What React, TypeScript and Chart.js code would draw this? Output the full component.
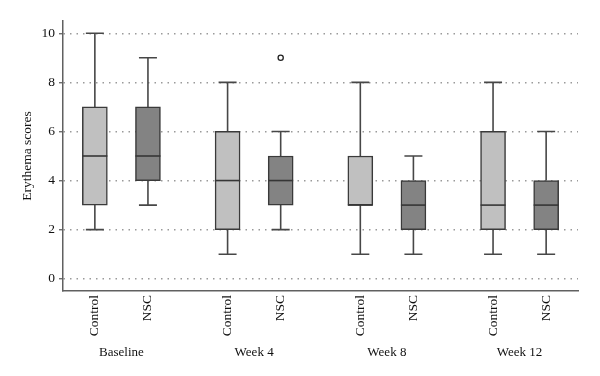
import React, { useEffect, useRef } from 'react';
import { Chart, registerables } from 'chart.js';

Chart.register(...registerables);

// ---- data ----
const groups = ['Baseline', 'Week 4', 'Week 8', 'Week 12'];
const seriesNames = ['Control', 'NSC'];

const controlMin = [2, 1, 1, 1];
const controlQ1 = [3, 2, 3, 2];
const controlMedian = [5, 4, 3, 3];
const controlQ3 = [7, 6, 5, 6];
const controlMax = [10, 8, 8, 8];

const nscMin = [3, 2, 1, 1];
const nscQ1 = [4, 3, 2, 2];
const nscMedian = [5, 4, 3, 3];
const nscQ3 = [7, 5, 4, 4];
const nscMax = [9, 6, 5, 6];

const nscOutlierGroups = [1];
const nscOutlierValues = [9];

const yTickValues = [0, 2, 4, 6, 8, 10];

// ---- styling / layout ----
const OFFSET = 0.2;
const FONT = "'Liberation Serif', 'DejaVu Serif', serif";
const LINE = '#474747';
const TEXT = '#111111';

const series = [
  { name: seriesNames[0], min: controlMin, q1: controlQ1, med: controlMedian, q3: controlQ3, max: controlMax, fill: '#c0c0c0', offset: -OFFSET },
  { name: seriesNames[1], min: nscMin, q1: nscQ1, med: nscMedian, q3: nscQ3, max: nscMax, fill: '#838383', offset: OFFSET },
];

const boxPlugin = {
  id: 'boxWhiskers',
  beforeDatasetsDraw(chart: any) {
    const { ctx, scales } = chart;
    const x = scales.x;
    const y = scales.y;
    const cap = 9;
    ctx.save();
    ctx.strokeStyle = LINE;
    ctx.lineWidth = 1.6;
    series.forEach((s) => {
      s.min.forEach((_: number, g: number) => {
        const px = x.getPixelForValue(g + s.offset);
        const yMin = y.getPixelForValue(s.min[g]);
        const yMax = y.getPixelForValue(s.max[g]);
        ctx.beginPath();
        ctx.moveTo(px, y.getPixelForValue(s.q1[g]));
        ctx.lineTo(px, yMin);
        ctx.moveTo(px, y.getPixelForValue(s.q3[g]));
        ctx.lineTo(px, yMax);
        ctx.moveTo(px - cap, yMin);
        ctx.lineTo(px + cap, yMin);
        ctx.moveTo(px - cap, yMax);
        ctx.lineTo(px + cap, yMax);
        ctx.stroke();
      });
    });
    ctx.restore();
  },
  afterDatasetsDraw(chart: any) {
    const { ctx, scales } = chart;
    const y = scales.y;
    ctx.save();
    ctx.strokeStyle = '#363636';
    ctx.lineWidth = 1.6;
    series.forEach((s, i) => {
      const meta = chart.getDatasetMeta(i);
      meta.data.forEach((bar: any, g: number) => {
        const py = y.getPixelForValue(s.med[g]);
        const half = bar.width / 2;
        ctx.beginPath();
        ctx.moveTo(bar.x - half, py);
        ctx.lineTo(bar.x + half, py);
        ctx.stroke();
      });
    });
    ctx.restore();
  },
};

export default function App() {
  const canvasRef = useRef<HTMLCanvasElement | null>(null);

  useEffect(() => {
    if (!canvasRef.current) return;
    const xMin = -0.44;
    const xMax = 3.44;
    const chart = new Chart(canvasRef.current, {
      type: 'bar',
      data: {
        datasets: [
          ...series.map((s) => ({
            type: 'bar' as const,
            label: s.name,
            data: groups.map((_, g) => ({ x: g + s.offset, y: [s.q1[g], s.q3[g]] })),
            backgroundColor: s.fill,
            borderColor: '#3a3a3a',
            borderWidth: 1.5,
            borderSkipped: false,
            barThickness: 25,
            grouped: false,
          })),
          {
            type: 'scatter' as const,
            label: 'Outliers',
            data: nscOutlierGroups.map((g, i) => ({ x: g + OFFSET, y: nscOutlierValues[i] })),
            pointRadius: 2.6,
            pointBackgroundColor: '#ffffff',
            pointBorderColor: '#222222',
            pointBorderWidth: 1.3,
          },
        ] as any,
      },
      options: {
        animation: false,
        responsive: true,
        maintainAspectRatio: false,
        layout: { padding: { left: 0, top: 21, right: 22, bottom: 13 } },
        plugins: { legend: { display: false }, tooltip: { enabled: false } },
        scales: {
          x: {
            type: 'linear',
            position: 'bottom',
            weight: 0,
            min: xMin,
            max: xMax,
            offset: false,
            afterBuildTicks: (scale: any) => {
              const t: any[] = [];
              groups.forEach((_, g) => series.forEach((s) => t.push({ value: g + s.offset })));
              scale.ticks = t;
            },
            afterFit: (scale: any) => { scale.height = 50; },
            grid: { display: false, drawTicks: false },
            border: { display: true, color: '#606060', width: 1.5 },
            ticks: {
              autoSkip: false,
              minRotation: 90,
              maxRotation: 90,
              padding: 4,
              color: TEXT,
              font: { family: FONT, size: 13.5 },
              callback: (_v: any, i: number) => seriesNames[i % seriesNames.length],
            },
          },
          x2: {
            type: 'linear',
            position: 'bottom',
            weight: 1,
            min: xMin,
            max: xMax,
            offset: false,
            afterBuildTicks: (scale: any) => {
              scale.ticks = groups.map((_, g) => ({ value: g }));
            },
            afterFit: (scale: any) => { scale.height = 22; },
            grid: { display: false, drawTicks: false },
            border: { display: false },
            ticks: {
              autoSkip: false,
              maxRotation: 0,
              minRotation: 0,
              padding: 4,
              color: TEXT,
              font: { family: FONT, size: 13 },
              callback: (_v: any, i: number) => groups[i],
            },
          },
          y: {
            type: 'linear',
            min: -0.5,
            max: 10.5,
            afterBuildTicks: (scale: any) => {
              scale.ticks = yTickValues.map((v) => ({ value: v }));
            },
            afterFit: (scale: any) => { scale.width = 63; },
            grid: {
              color: '#9a9a9a',
              lineWidth: 1.5,
              drawTicks: true,
              tickLength: 4,
              tickColor: '#555555',
              tickWidth: 1.2,
              tickBorderDash: [],
            },
            border: { display: true, color: '#606060', width: 1.5, dash: [1.5, 5] },
            ticks: {
              padding: 4,
              color: TEXT,
              font: { family: FONT, size: 13.5 },
              callback: (v: any) => String(v),
            },
            title: {
              display: true,
              text: 'Erythema scores',
              color: TEXT,
              font: { family: FONT, size: 13.5 },
              padding: { top: 19, bottom: 0 },
            },
          },
        },
      } as any,
      plugins: [boxPlugin],
    });
    return () => chart.destroy();
  }, []);

  return (
    <div style={{ position: 'absolute', left: 0, top: 0, width: 600, height: 376, background: '#fff' }}>
      <canvas ref={canvasRef} />
    </div>
  );
}
